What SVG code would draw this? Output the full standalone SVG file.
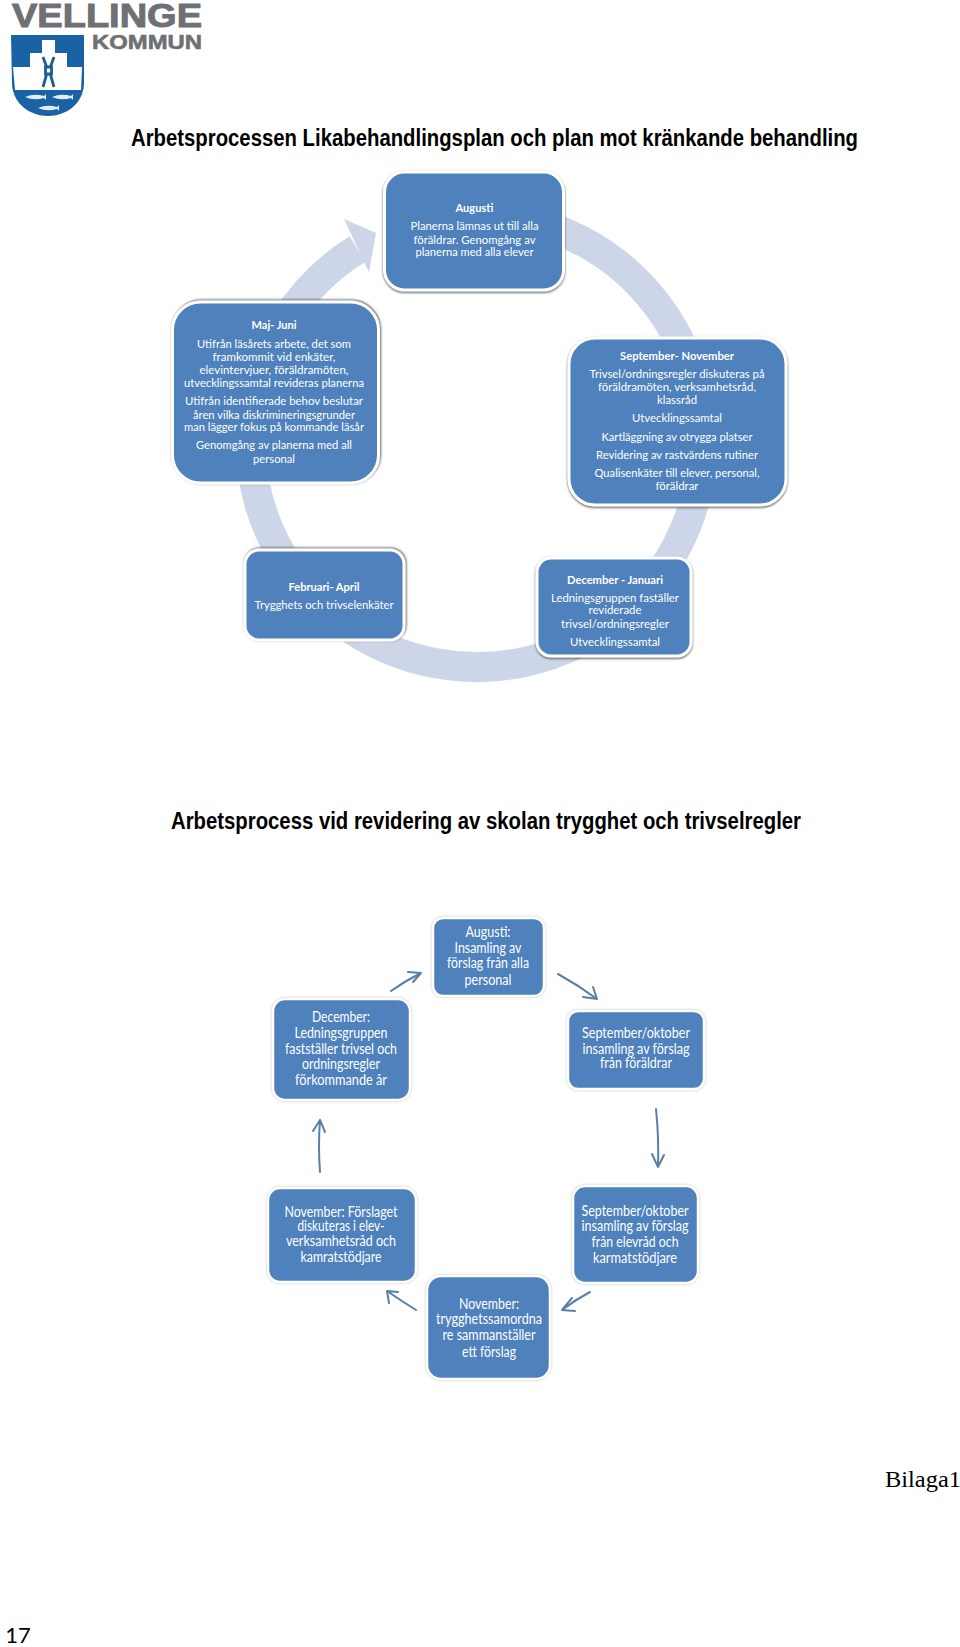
<svg xmlns="http://www.w3.org/2000/svg" width="960" height="1647" viewBox="0 0 960 1647">
<style>
text{font-family:"Lato","Open Sans","Liberation Sans",sans-serif;text-anchor:middle}
.a text{fill:#fff;font-size:11.8px}
.b text{fill:#fff;font-size:14.5px}
.h{font-weight:700}
.t{font-family:"Liberation Sans",Arial,sans-serif;font-weight:700;font-size:23px;fill:#000}
.box{fill:#4f81bd;stroke:#fff;stroke-width:3;filter:url(#sh)}
.boxu{fill:#4f81bd;stroke:#fff;stroke-width:3;filter:url(#shu)}
.box2{fill:#4f81bd;stroke:#fff;stroke-width:2.5;filter:url(#sh2)}
.arr{fill:none;stroke:#5a7fa8;stroke-width:2;stroke-linecap:round;stroke-linejoin:round}
</style>
<defs>
<filter id="sh" x="-10%" y="-10%" width="120%" height="120%"><feDropShadow dx="0" dy="1.2" stdDeviation="1.3" flood-color="#555"/></filter>
<filter id="shu" x="-10%" y="-10%" width="120%" height="120%"><feDropShadow dx="0.8" dy="-0.8" stdDeviation="1.2" flood-color="#555"/></filter>
<filter id="sh2" x="-10%" y="-10%" width="120%" height="120%"><feDropShadow dx="0" dy="0" stdDeviation="1.2" flood-color="#bbb"/></filter>
</defs>
<rect width="960" height="1647" fill="#fff"/>

<g id="logo">
<text x="107" y="27" textLength="190" lengthAdjust="spacingAndGlyphs" style="font-family:'Liberation Sans',sans-serif;font-weight:700;font-size:34px;fill:#6e7073;stroke:#6e7073;stroke-width:1">VELLINGE</text>
<text x="147" y="49" textLength="110" lengthAdjust="spacingAndGlyphs" style="font-family:'Liberation Sans',sans-serif;font-weight:700;font-size:21px;fill:#6e7073;stroke:#6e7073;stroke-width:.6">KOMMUN</text>
<path d="M11 35H84V84C83 104 66 116 48 116C30 116 13 104 12 84Z" fill="#1a62a6"/>
<path d="M42 40H55V53H67V67H82L81 90H15L13 67H30V53H42Z" fill="#fff"/>
<path d="M43 57L47 68M54 57L50 68M47 73L43 87M50 73L54 87M45.500 67H51.500V74H45.500Z" fill="none" stroke="#1a5f8f" stroke-width="2.800"/>
<g fill="#e4ecf3">
<path d="M25 97Q34 93 44 96L46 94V100L44 98Q34 101 25 97Z"/>
<path d="M52 97Q61 93 71 96L73 94V100L71 98Q61 101 52 97Z"/>
<path d="M38 108Q47 104 57 107L59 105V111L57 109Q47 112 38 108Z"/>
</g>
</g>

<text id="title1" class="t" x="494.500" y="146" textLength="727" lengthAdjust="spacingAndGlyphs">Arbetsprocessen Likabehandlingsplan och plan mot kränkande behandling</text>
<text id="title2" class="t" x="486" y="829" textLength="630" lengthAdjust="spacingAndGlyphs">Arbetsprocess vid revidering av skolan trygghet och trivselregler</text>

<g id="connectors">
<path d="M450 216.600A226 226 0 1 1 357.500 249" fill="none" stroke="#cdd5e8" stroke-width="30"/>
<path d="M344 219L376 233L369 272Z" fill="#cdd5e8"/>
<path class="arr" d="M391 991Q405 981 421 973M408 972L421 973L413 982"/>
<path class="arr" d="M558 974Q578 985 597 999M593 987L597 999L583 997"/>
<path class="arr" d="M656 1109Q659 1138 658 1167M652 1154L658 1167L664 1155"/>
<path class="arr" d="M320 1172Q318 1146 320 1120M313 1131L320 1120L325 1132"/>
<path class="arr" d="M590 1292Q575 1300 562 1310M572 1298L562 1310L575 1311"/>
<path class="arr" d="M416 1310Q400 1300 387 1291M398 1292L387 1291L389 1303"/>
</g>

<g id="n-augusti" class="a">
<rect class="box" x="384.500" y="172" width="179" height="118" rx="20"/>
<text class="h" x="474.500" y="212" textLength="38" lengthAdjust="spacingAndGlyphs">Augusti</text>
<text x="474.500" y="230" textLength="128" lengthAdjust="spacingAndGlyphs">Planerna lämnas ut till alla</text>
<text x="474.500" y="244" textLength="122" lengthAdjust="spacingAndGlyphs">föräldrar. Genomgång av</text>
<text x="474.500" y="256" textLength="118" lengthAdjust="spacingAndGlyphs">planerna med alla elever</text>
</g>
<g id="n-majjuni" class="a">
<rect class="boxu" x="172.500" y="302" width="206" height="181" rx="28"/>
<text class="h" x="274" y="329" textLength="45" lengthAdjust="spacingAndGlyphs">Maj- Juni</text>
<text x="274" y="348" textLength="154" lengthAdjust="spacingAndGlyphs">Utifrån läsårets arbete, det som</text>
<text x="274" y="361" textLength="123" lengthAdjust="spacingAndGlyphs">framkommit vid enkäter,</text>
<text x="274" y="374" textLength="149" lengthAdjust="spacingAndGlyphs">elevintervjuer, föräldramöten,</text>
<text x="274" y="387" textLength="180" lengthAdjust="spacingAndGlyphs">utvecklingssamtal revideras planerna</text>
<text x="274" y="405" textLength="178" lengthAdjust="spacingAndGlyphs">Utifrån identifierade behov  beslutar</text>
<text x="274" y="419" textLength="162" lengthAdjust="spacingAndGlyphs">åren vilka diskrimineringsgrunder</text>
<text x="274" y="431" textLength="180" lengthAdjust="spacingAndGlyphs">man lägger fokus på kommande läsår</text>
<text x="274" y="449" textLength="156" lengthAdjust="spacingAndGlyphs">Genomgång av planerna med all</text>
<text x="274" y="463" textLength="42" lengthAdjust="spacingAndGlyphs">personal</text>
</g>
<g id="n-september" class="a">
<rect class="box" x="569" y="338" width="217" height="167" rx="26"/>
<text class="h" x="677" y="360" textLength="114" lengthAdjust="spacingAndGlyphs">September- November</text>
<text x="677" y="378" textLength="175" lengthAdjust="spacingAndGlyphs">Trivsel/ordningsregler diskuteras på</text>
<text x="677" y="391" textLength="158" lengthAdjust="spacingAndGlyphs">föräldramöten, verksamhetsråd,</text>
<text x="677" y="404" textLength="40" lengthAdjust="spacingAndGlyphs">klassråd</text>
<text x="677" y="422" textLength="90" lengthAdjust="spacingAndGlyphs">Utvecklingssamtal</text>
<text x="677" y="441" textLength="151" lengthAdjust="spacingAndGlyphs">Kartläggning av otrygga platser</text>
<text x="677" y="458.600" textLength="162" lengthAdjust="spacingAndGlyphs">Revidering av rastvärdens rutiner</text>
<text x="677" y="477" textLength="165" lengthAdjust="spacingAndGlyphs">Qualisenkäter till elever, personal,</text>
<text x="677" y="490" textLength="43" lengthAdjust="spacingAndGlyphs">föräldrar</text>
</g>
<g id="n-februari" class="a">
<rect class="boxu" x="245" y="550" width="159" height="90" rx="14"/>
<text class="h" x="324" y="591" textLength="71" lengthAdjust="spacingAndGlyphs">Februari- April</text>
<text x="324" y="609" textLength="139" lengthAdjust="spacingAndGlyphs">Trygghets och trivselenkäter</text>
</g>
<g id="n-december" class="a">
<rect class="box" x="537" y="558" width="154" height="98" rx="14"/>
<text class="h" x="615" y="584" textLength="96" lengthAdjust="spacingAndGlyphs">December - Januari</text>
<text x="615" y="602" textLength="128" lengthAdjust="spacingAndGlyphs">Ledningsgruppen faställer</text>
<text x="615" y="614" textLength="53" lengthAdjust="spacingAndGlyphs">reviderade</text>
<text x="615" y="628" textLength="108" lengthAdjust="spacingAndGlyphs">trivsel/ordningsregler</text>
<text x="615" y="646" textLength="90" lengthAdjust="spacingAndGlyphs">Utvecklingssamtal</text>
</g>

<g id="m-augusti" class="b">
<rect class="box2" x="433" y="918" width="111" height="78" rx="10"/>
<text x="488" y="937" textLength="45" lengthAdjust="spacingAndGlyphs">Augusti:</text>
<text x="488" y="953" textLength="67" lengthAdjust="spacingAndGlyphs">Insamling av</text>
<text x="488" y="968" textLength="82" lengthAdjust="spacingAndGlyphs">förslag från alla</text>
<text x="488" y="985" textLength="47" lengthAdjust="spacingAndGlyphs">personal</text>
</g>
<g id="m-december" class="b">
<rect class="box2" x="273" y="999" width="137" height="101" rx="12"/>
<text x="341" y="1022" textLength="58" lengthAdjust="spacingAndGlyphs">December:</text>
<text x="341" y="1038" textLength="93" lengthAdjust="spacingAndGlyphs">Ledningsgruppen</text>
<text x="341" y="1054" textLength="112" lengthAdjust="spacingAndGlyphs">fastställer trivsel och</text>
<text x="341" y="1069" textLength="78" lengthAdjust="spacingAndGlyphs">ordningsregler</text>
<text x="341" y="1085" textLength="92" lengthAdjust="spacingAndGlyphs">förkommande år</text>
</g>
<g id="m-sep1" class="b">
<rect class="box2" x="568" y="1011" width="136" height="78" rx="10"/>
<text x="636" y="1038" textLength="108" lengthAdjust="spacingAndGlyphs">September/oktober</text>
<text x="636" y="1054" textLength="107" lengthAdjust="spacingAndGlyphs">insamling av förslag</text>
<text x="636" y="1068" textLength="72" lengthAdjust="spacingAndGlyphs">från föräldrar</text>
</g>
<g id="m-nov1" class="b">
<rect class="box2" x="268" y="1188" width="148" height="94" rx="12"/>
<text x="341" y="1216.500" textLength="113" lengthAdjust="spacingAndGlyphs">November: Förslaget</text>
<text x="341" y="1231" textLength="87" lengthAdjust="spacingAndGlyphs">diskuteras i elev-</text>
<text x="341" y="1246" textLength="110" lengthAdjust="spacingAndGlyphs">verksamhetsråd och</text>
<text x="341" y="1262" textLength="81" lengthAdjust="spacingAndGlyphs">kamratstödjare</text>
</g>
<g id="m-sep2" class="b">
<rect class="box2" x="573" y="1186" width="125" height="97" rx="12"/>
<text x="635" y="1216" textLength="107" lengthAdjust="spacingAndGlyphs">September/oktober</text>
<text x="635" y="1231" textLength="107" lengthAdjust="spacingAndGlyphs">insamling av förslag</text>
<text x="635" y="1247" textLength="87" lengthAdjust="spacingAndGlyphs">från elevråd och</text>
<text x="635" y="1263" textLength="84" lengthAdjust="spacingAndGlyphs">karmatstödjare</text>
</g>
<g id="m-nov2" class="b">
<rect class="box2" x="427" y="1276" width="123" height="103" rx="14"/>
<text x="489" y="1308.500" textLength="60" lengthAdjust="spacingAndGlyphs">November:</text>
<text x="489" y="1324" textLength="106" lengthAdjust="spacingAndGlyphs">trygghetssamordna</text>
<text x="489" y="1340" textLength="93" lengthAdjust="spacingAndGlyphs">re sammanställer</text>
<text x="489" y="1357" textLength="54" lengthAdjust="spacingAndGlyphs">ett förslag</text>
</g>

<text id="bilaga" x="919" y="1487" style="font-family:'Liberation Serif',serif;font-size:24px;fill:#000" textLength="76" lengthAdjust="spacingAndGlyphs" transform="translate(4 0)">Bilaga1</text>
<text id="page" x="18" y="1643" style="font-size:22px;fill:#000">17</text>
</svg>
